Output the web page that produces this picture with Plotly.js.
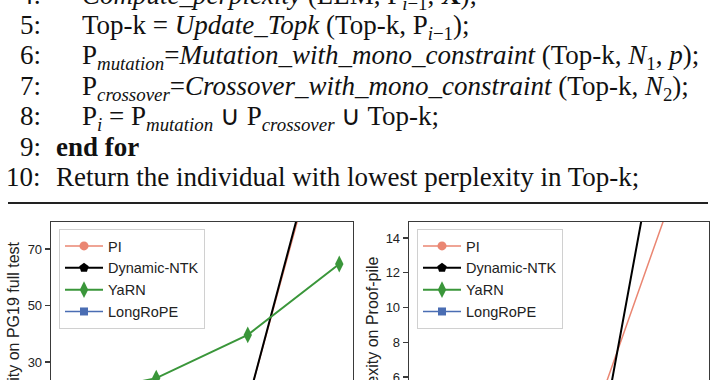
<!DOCTYPE html>
<html>
<head>
<meta charset="utf-8">
<script src="https://cdn.plot.ly/plotly-3.0.1.min.js"></script>
<style>
html,body{margin:0;padding:0;background:#fff;overflow:hidden;}
#chart{width:720px;height:380px;}
</style>
</head>
<body>
<div id="chart"></div>
<script>
// ---- data ----
const contextIdx = [0, 1, 2, 3];
const seriesNames = ['PI', 'Dynamic-NTK', 'YaRN', 'LongRoPE'];
// Perplexity on PG19 full test (left panel)
const pg19_PI = [9.5, 10.2, 15.8, 134];
const pg19_NTK = [9.4, 10.0, 15.6, 137];
const pg19_YaRN = [17.5, 24.3, 39.6, 64.7];
const pg19_LongRoPE = [9.3, 9.6, 10.1, 11.0];
// Perplexity on Proof-pile (right panel)
const pp_PI = [3.2, 3.1, 5.38, 20.2];
const pp_NTK = [3.1, 3.0, 3.44, 31.9];
const pp_YaRN = [3.3, 3.2, 3.1, 3.1];
const pp_LongRoPE = [3.1, 3.0, 2.9, 2.8];
const pg19Ticks = [30, 50, 70];
const ppTicks = [6, 8, 10, 12, 14];
// algorithm listing text
const lineNumbers = ['4:', '5:', '6:', '7:', '8:', '9:', '10:'];
const lineTexts = [
  '<i>Compute_perplexity</i> (LLM, P<sub><i>i</i>−1</sub>, <b>X</b>);',
  'Top-k = <i>Update_Topk</i> (Top-k, P<sub><i>i</i>−1</sub>);',
  'P<sub><i>mutation</i></sub>=<i>Mutation_with_mono_constraint</i> (Top-k, <i>N</i><sub>1</sub>, <i>p</i>);',
  'P<sub><i>crossover</i></sub>=<i>Crossover_with_mono_constraint</i> (Top-k, <i>N</i><sub>2</sub>);',
  'P<sub><i>i</i></sub> = P<sub><i>mutation</i></sub> ∪ P<sub><i>crossover</i></sub> ∪ Top-k;',
  '<b>end for</b>',
  'Return the individual with lowest perplexity in Top-k;'
];
const lineIndented = [true, true, true, true, true, false, false];

// ---- styles ----
const W = 720, H = 380;
const colors = ['#ea8672', '#000000', '#3a963a', '#4a6db3'];
const symbols = ['circle', 'pentagon', 'diamond-tall', 'square'];
const msizes = [9, 10, 12, 8];
const lwidths = [1.5, 2, 2, 1.5];
const px = v => v / W;
const py = v => 1 - v / H;

function mk(name, i, y, xa, ya, leg) {
  return {
    x: contextIdx, y: y, name: name, type: 'scatter', mode: 'lines+markers',
    xaxis: xa, yaxis: ya, legend: leg,
    line: {color: colors[i], width: lwidths[i]},
    marker: {symbol: symbols[i], size: msizes[i], color: colors[i]},
    cliponaxis: true
  };
}
const data = [
  mk(seriesNames[0], 0, pg19_PI, 'x', 'y', 'legend'),
  mk(seriesNames[1], 1, pg19_NTK, 'x', 'y', 'legend'),
  mk(seriesNames[2], 2, pg19_YaRN, 'x', 'y', 'legend'),
  mk(seriesNames[3], 3, pg19_LongRoPE, 'x', 'y', 'legend'),
  mk(seriesNames[0], 0, pp_PI, 'x2', 'y2', 'legend2'),
  mk(seriesNames[1], 1, pp_NTK, 'x2', 'y2', 'legend2'),
  mk(seriesNames[2], 2, pp_YaRN, 'x2', 'y2', 'legend2'),
  mk(seriesNames[3], 3, pp_LongRoPE, 'x2', 'y2', 'legend2')
];

const frame = '#3a3a3a';
const tickFont = {family: 'Liberation Sans, Arial, sans-serif', size: 13, color: '#222'};
function xax(d, anchor) {
  return {domain: d, anchor: anchor, range: [-0.15, 3.15], side: 'top', showline: true, linecolor: frame, linewidth: 1.3,
    showgrid: false, zeroline: false, showticklabels: false, ticks: ''};
}
function yax(r, tv, anchor) {
  return {domain: [0, py(222)], anchor: anchor, range: r, tickvals: tv, ticks: 'outside', ticklen: 5, tickwidth: 1.2,
    tickcolor: frame, showline: true, mirror: true, linecolor: frame, linewidth: 1.3, ticklabeloverflow: 'allow',
    showgrid: false, zeroline: false, tickfont: tickFont};
}
const legStyle = (x) => ({
  x: px(x), y: py(229), xanchor: 'left', yanchor: 'top', xref: 'paper', yref: 'paper',
  bgcolor: 'rgba(255,255,255,0.85)', bordercolor: '#d0d0d0', borderwidth: 1,
  font: {family: 'Liberation Sans, Arial, sans-serif', size: 14.5, color: '#222'},
  tracegroupgap: 0, traceorder: 'normal', itemwidth: 38
});

const annotations = [];
const serif = {family: 'Liberation Serif, Times New Roman, serif', size: 27, color: '#111'};
for (let k = 0; k < lineNumbers.length; k++) {
  const baseline = 3.6 + 30.4 * k;
  const top = baseline - 25;
  annotations.push({xref: 'paper', yref: 'paper', x: px(42), y: py(top), xanchor: 'right', yanchor: 'top',
    text: lineNumbers[k], showarrow: false, font: serif, borderpad: 0});
  annotations.push({xref: 'paper', yref: 'paper', x: px(lineIndented[k] ? 81 : 55), y: py(top), xanchor: 'left', yanchor: 'top',
    text: lineTexts[k], showarrow: false, font: serif, borderpad: 0});
}
const titleFont = {family: 'Liberation Sans, Arial, sans-serif', size: 16, color: '#222'};
annotations.push({xref: 'paper', yref: 'paper', x: px(13), y: py(239), xanchor: 'center', yanchor: 'top',
  textangle: -90, text: 'Perplexity on PG19 full test', showarrow: false, font: titleFont});
annotations.push({xref: 'paper', yref: 'paper', x: px(372), y: py(254), xanchor: 'center', yanchor: 'top',
  textangle: -90, text: 'Perplexity on Proof-pile', showarrow: false, font: titleFont});

const layout = {
  width: W, height: H, margin: {l: 0, r: 0, t: 0, b: 0},
  paper_bgcolor: '#fff', plot_bgcolor: '#fff', showlegend: true,
  xaxis: xax([px(51), px(353)], 'y'), yaxis: yax([23.63, 79.56], pg19Ticks, 'x'),
  xaxis2: xax([px(409), px(709)], 'y2'), yaxis2: yax([5.83, 14.92], ppTicks, 'x2'),
  legend: legStyle(59), legend2: legStyle(417),
  annotations: annotations,
  shapes: [{type: 'line', xref: 'paper', yref: 'paper', x0: px(8), x1: px(708), y0: py(203), y1: py(203),
    line: {color: '#222', width: 2}}]
};
Plotly.newPlot('chart', data, layout, {staticPlot: true, displayModeBar: false});
</script>
</body>
</html>
